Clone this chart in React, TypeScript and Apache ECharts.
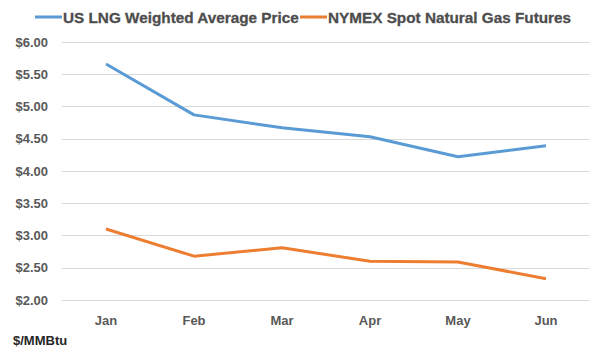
import React, { useEffect, useRef } from "react";
import * as echarts from "echarts";

const months = ["Jan", "Feb", "Mar", "Apr", "May", "Jun"];
const lngPrice = [5.66, 4.87, 4.67, 4.53, 4.22, 4.39];
const nymexPrice = [3.1, 2.68, 2.81, 2.6, 2.59, 2.33];
const seriesNames = ["US LNG Weighted Average Price", "NYMEX Spot Natural Gas Futures"];
const seriesColors = ["#5B9BD5", "#ED7D31"];
const unitLabel = "$/MMBtu";

export default function App() {
  const ref = useRef<HTMLDivElement>(null);
  useEffect(() => {
    const chart = echarts.init(ref.current!, null, { renderer: "svg" });
    const font = "'Liberation Sans', Arial, sans-serif";
    const legendFont = "bold 15.3px 'Liberation Sans', Arial, sans-serif";
    const legendY = 17;
    const legendStarts = [35, 300];
    const legendGraphics: any[] = [];
    seriesNames.forEach((name, i) => {
      legendGraphics.push({
        type: "rect",
        shape: { x: legendStarts[i], y: legendY - 1.5, width: 27, height: 3 },
        style: { fill: seriesColors[i] },
      });
      legendGraphics.push({
        type: "text",
        x: legendStarts[i] + 28,
        y: legendY,
        style: {
          text: name,
          font: legendFont,
          fill: "#4d4d4d",
          stroke: "#4d4d4d",
          lineWidth: 0.3,
          verticalAlign: "middle",
        },
      });
    });
    chart.setOption({
      animation: false,
      backgroundColor: "#ffffff",
      textStyle: { fontFamily: font },
      legend: { show: false },
      grid: { left: 62, right: 7, top: 42, bottom: 54, containLabel: false },
      xAxis: {
        type: "category",
        data: months,
        boundaryGap: true,
        axisLine: { show: false },
        axisTick: { show: false },
        axisLabel: { color: "#595959", fontSize: 13, fontWeight: "bold", fontFamily: font, margin: 14 },
      },
      yAxis: {
        type: "value",
        min: 2,
        max: 6,
        interval: 0.5,
        axisLine: { show: false },
        axisTick: { show: false },
        splitLine: { lineStyle: { color: "#d9d9d9", width: 1 } },
        axisLabel: {
          color: "#595959",
          fontSize: 13,
          fontWeight: "bold",
          fontFamily: font,
          margin: 14,
          formatter: (v: number) => "$" + v.toFixed(2),
        },
      },
      graphic: [
        ...legendGraphics,
        {
          type: "text",
          left: 13,
          top: 334,
          style: { text: unitLabel, fill: "#262626", font: "bold 13px 'Liberation Sans', Arial, sans-serif" },
        },
      ],
      series: [
        {
          name: seriesNames[0],
          type: "line",
          data: lngPrice,
          symbol: "none",
          lineStyle: { color: seriesColors[0], width: 3 },
          itemStyle: { color: seriesColors[0] },
        },
        {
          name: seriesNames[1],
          type: "line",
          data: nymexPrice,
          symbol: "none",
          lineStyle: { color: seriesColors[1], width: 3 },
          itemStyle: { color: seriesColors[1] },
        },
      ],
    });
    return () => chart.dispose();
  }, []);
  return <div ref={ref} style={{ width: 597, height: 354, position: "absolute", left: 0, top: 0 }} />;
}
